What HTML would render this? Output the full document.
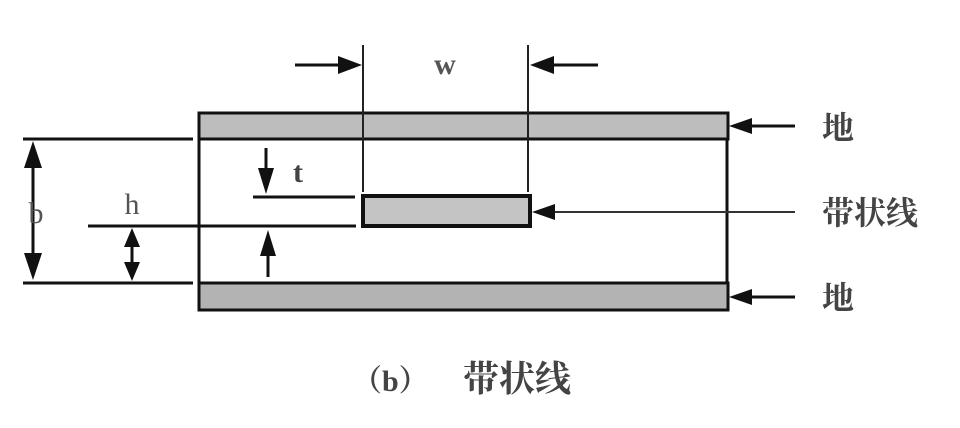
<!DOCTYPE html>
<html><head><meta charset="utf-8"><style>
html,body{margin:0;padding:0;background:#fff;}
svg{display:block;}
</style></head><body>
<svg width="960" height="428" viewBox="0 0 960 428" xmlns="http://www.w3.org/2000/svg">
<!-- ground planes -->
<rect x="199" y="113" width="529" height="26" fill="#bdbdbd" stroke="#111" stroke-width="3"/>
<rect x="199" y="283" width="529" height="27" fill="#b3b3b3" stroke="#111" stroke-width="3"/>
<line x1="199" y1="139" x2="199" y2="283" stroke="#111" stroke-width="3"/>
<line x1="727" y1="139" x2="727" y2="283" stroke="#111" stroke-width="3"/>
<!-- strip -->
<rect x="363" y="196" width="167" height="30" fill="#c4c4c4" stroke="#111" stroke-width="4"/>
<!-- w dimension -->
<line x1="363" y1="45" x2="363" y2="192" stroke="#222" stroke-width="2"/>
<line x1="528" y1="45" x2="528" y2="192" stroke="#222" stroke-width="2"/>
<line x1="295" y1="65" x2="345" y2="65" stroke="#111" stroke-width="3"/>
<polygon points="362,65 338,56 338,74" fill="#111"/>
<line x1="548" y1="65" x2="598" y2="65" stroke="#111" stroke-width="3"/>
<polygon points="530,65 554,56 554,74" fill="#111"/>
<text x="445" y="74" font-family="Liberation Serif, serif" font-size="30" font-weight="bold" fill="#555" text-anchor="middle">w</text>
<!-- b dimension -->
<line x1="23" y1="139" x2="193" y2="139" stroke="#111" stroke-width="3"/>
<line x1="23" y1="283" x2="193" y2="283" stroke="#111" stroke-width="3"/>
<line x1="33" y1="155" x2="33" y2="265" stroke="#111" stroke-width="3"/>
<polygon points="33,141 24,168 42,168" fill="#111"/>
<polygon points="33,280 24,253 42,253" fill="#111"/>
<text x="36" y="223" font-family="Liberation Serif, serif" font-size="30" fill="#555" text-anchor="middle">b</text>
<!-- h dimension -->
<line x1="88" y1="226" x2="356" y2="226" stroke="#111" stroke-width="3"/>
<line x1="132" y1="240" x2="132" y2="268" stroke="#111" stroke-width="3"/>
<polygon points="132,228 124,247 140,247" fill="#111"/>
<polygon points="132,281 124,262 140,262" fill="#111"/>
<text x="132" y="214" font-family="Liberation Serif, serif" font-size="30" fill="#555" text-anchor="middle">h</text>
<!-- t dimension -->
<line x1="253" y1="197" x2="355" y2="197" stroke="#111" stroke-width="3"/>
<line x1="266" y1="148" x2="266" y2="175" stroke="#111" stroke-width="3"/>
<polygon points="266,194 258,168 274,168" fill="#111"/>
<line x1="268" y1="250" x2="268" y2="277" stroke="#111" stroke-width="3"/>
<polygon points="268,230 260,256 276,256" fill="#111"/>
<text x="298" y="182" font-family="Liberation Serif, serif" font-size="30" font-weight="bold" fill="#444" text-anchor="middle">t</text>
<!-- right labels -->
<line x1="745" y1="126" x2="795" y2="126" stroke="#111" stroke-width="3"/>
<polygon points="729,126 752,118 752,134" fill="#111"/>
<line x1="550" y1="212" x2="795" y2="212" stroke="#333" stroke-width="2"/>
<polygon points="532,212 555,204 555,220" fill="#111"/>
<line x1="745" y1="297" x2="795" y2="297" stroke="#111" stroke-width="3"/>
<polygon points="729,297 752,289 752,305" fill="#111"/>
<g font-family="Liberation Serif, 'Noto Serif CJK SC', serif" font-size="32" font-weight="bold" fill="#444">
<text x="822" y="139">地</text>
<text x="822" y="224">带状线</text>
<text x="822" y="309">地</text>
<text x="352" y="391" font-size="30">（b）</text>
<text x="463" y="391" font-size="36">带状线</text>
</g>
</svg>
</body></html>
